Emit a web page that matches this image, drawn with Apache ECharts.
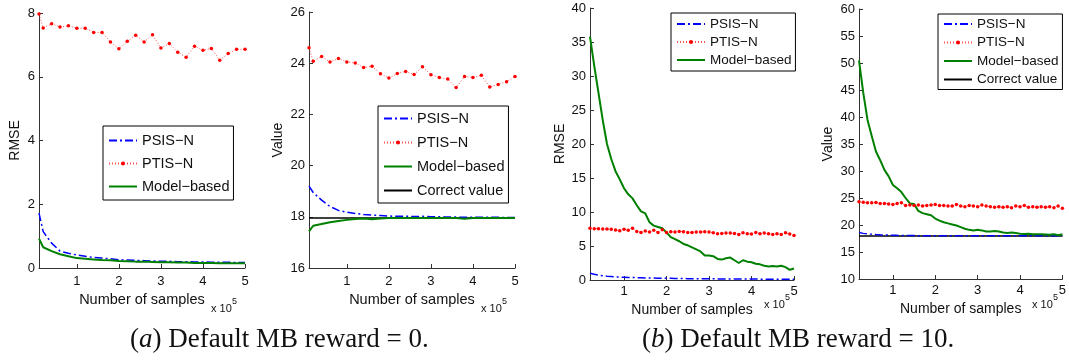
<!DOCTYPE html>
<html>
<head>
<meta charset="utf-8">
<title>RMSE / Value vs number of samples</title>
<script src="https://cdn.jsdelivr.net/npm/echarts@6/dist/echarts.min.js"></script>
<style>
  html, body { margin: 0; background: #fff; }
  #chart { width: 1069px; height: 362px; }
</style>
</head>
<body>
<div id="chart"></div>
<script>
// sample counts (x 10^5)
var xLeft = [0.1, 0.2, 0.4, 0.6, 0.8, 1.0, 1.2, 1.4, 1.6, 1.8, 2.0, 2.2, 2.4, 2.6, 2.8, 3.0, 3.2, 3.4, 3.6, 3.8, 4.0, 4.2, 4.4, 4.6, 4.8, 5.0];
var xRight = [0.2, 0.3, 0.4, 0.5, 0.6, 0.7, 0.8, 0.9, 1.0, 1.1, 1.2, 1.3, 1.4, 1.5, 1.6, 1.7, 1.8, 1.9, 2.0, 2.1, 2.2, 2.3, 2.4, 2.5, 2.6, 2.7, 2.8, 2.9, 3.0, 3.1, 3.2, 3.3, 3.4, 3.5, 3.6, 3.7, 3.8, 3.9, 4.0, 4.1, 4.2, 4.3, 4.4, 4.5, 4.6, 4.7, 4.8, 4.9, 5.0];
var xTicks = [1, 2, 3, 4, 5];

// (a) default MB reward = 0
var rmsePsisA = [1.72, 1.14, 0.78, 0.53, 0.46, 0.41, 0.37, 0.33, 0.31, 0.29, 0.26, 0.25, 0.24, 0.23, 0.22, 0.21, 0.21, 0.2, 0.2, 0.19, 0.19, 0.18, 0.18, 0.18, 0.17, 0.17];
var rmsePtisA = [7.97, 7.53, 7.66, 7.56, 7.6, 7.52, 7.52, 7.39, 7.39, 7.09, 6.88, 7.11, 7.3, 7.09, 7.32, 6.9, 7.04, 6.77, 6.61, 6.96, 6.83, 6.89, 6.52, 6.73, 6.86, 6.86];
var rmseModelA = [0.92, 0.65, 0.53, 0.43, 0.37, 0.31, 0.29, 0.27, 0.25, 0.24, 0.22, 0.21, 0.2, 0.2, 0.19, 0.18, 0.18, 0.17, 0.17, 0.16, 0.16, 0.16, 0.15, 0.15, 0.15, 0.15];
var valPsisA = [19.2, 18.95, 18.65, 18.4, 18.25, 18.18, 18.13, 18.09, 18.07, 18.05, 18.03, 18.02, 18.02, 18.01, 18.02, 18.0, 18.0, 17.99, 17.99, 17.98, 17.98, 17.98, 17.98, 17.98, 17.97, 17.97];
var valPtisA = [24.6, 24.08, 24.26, 24.05, 24.18, 24.05, 24.01, 23.83, 23.88, 23.59, 23.42, 23.6, 23.68, 23.56, 23.86, 23.55, 23.44, 23.38, 23.05, 23.48, 23.44, 23.53, 23.07, 23.17, 23.28, 23.48];
var valModelA = [17.43, 17.65, 17.72, 17.79, 17.84, 17.88, 17.91, 17.93, 17.9, 17.93, 17.95, 17.95, 17.95, 17.95, 17.95, 17.95, 17.95, 17.95, 17.95, 17.92, 17.95, 17.95, 17.95, 17.95, 17.95, 17.95];

// (b) default MB reward = 10
var rmsePsisB = [1.0, 0.85, 0.72, 0.62, 0.55, 0.5, 0.45, 0.42, 0.4, 0.38, 0.36, 0.34, 0.32, 0.3, 0.29, 0.28, 0.27, 0.26, 0.25, 0.24, 0.23, 0.22, 0.21, 0.2, 0.2, 0.19, 0.18, 0.18, 0.17, 0.17, 0.16, 0.16, 0.15, 0.15, 0.15, 0.14, 0.14, 0.14, 0.13, 0.13, 0.13, 0.12, 0.12, 0.12, 0.12, 0.11, 0.11, 0.11, 0.11];
var rmsePtisB = [7.6, 7.55, 7.55, 7.5, 7.5, 7.45, 7.35, 7.25, 7.45, 7.3, 7.6, 7.15, 7.0, 7.2, 7.05, 7.3, 7.0, 7.4, 7.0, 7.1, 7.05, 7.15, 7.1, 7.0, 7.0, 7.05, 7.05, 7.1, 7.05, 6.95, 6.8, 6.85, 6.9, 6.9, 6.85, 6.7, 6.95, 6.8, 6.75, 7.0, 6.8, 6.9, 6.8, 6.7, 6.8, 6.7, 6.95, 6.75, 6.55];
var rmseModelB = [35.8, 31.5, 27.5, 23.5, 20.0, 17.8, 16.0, 14.8, 13.5, 12.6, 12.0, 11.0, 10.1, 9.8, 8.5, 8.0, 7.8, 7.6, 7.0, 6.3, 6.0, 5.7, 5.3, 5.1, 4.8, 4.5, 4.2, 3.6, 3.6, 3.5, 3.1, 3.0, 3.2, 3.3, 2.9, 2.5, 2.9, 2.7, 2.6, 2.4, 2.3, 2.1, 2.0, 2.05, 2.0, 2.1, 1.9, 1.5, 1.7];
var valPsisB = [18.6, 18.45, 18.35, 18.28, 18.22, 18.18, 18.15, 18.12, 18.1, 18.08, 18.07, 18.06, 18.05, 18.04, 18.03, 18.03, 18.02, 18.02, 18.01, 18.01, 18.0, 18.0, 18.0, 18.0, 18.0, 18.0, 18.0, 18.0, 18.0, 18.0, 18.0, 18.0, 18.0, 18.0, 18.0, 18.0, 18.0, 18.0, 18.0, 18.0, 18.0, 18.0, 18.0, 18.0, 18.0, 18.0, 18.0, 18.0, 18.0];
var valPtisB = [24.3, 24.2, 24.1, 24.1, 24.15, 24.0, 24.0, 23.9, 23.8, 24.0, 24.1, 23.6, 23.7, 23.6, 23.7, 23.5, 23.6, 23.7, 23.8, 23.6, 23.6, 23.5, 23.5, 23.8, 23.5, 23.4, 23.6, 23.5, 23.4, 23.7, 23.5, 23.4, 23.3, 23.4, 23.3, 23.4, 23.2, 23.5, 23.4, 23.6, 23.3, 23.4, 23.3, 23.4, 23.3, 23.4, 23.2, 23.5, 23.1];
var valModelB = [50.5, 44.5, 39.5, 36.5, 33.6, 32.0, 30.2, 29.0, 27.4, 26.8, 26.1, 25.0, 24.0, 23.9, 22.6, 22.2, 22.0, 21.8, 21.2, 20.8, 20.5, 20.3, 20.1, 19.9, 19.6, 19.3, 19.1, 19.0, 19.1, 19.0, 18.8, 18.8, 18.9, 18.8, 18.6, 18.5, 18.6, 18.5, 18.4, 18.35, 18.4, 18.3, 18.3, 18.3, 18.25, 18.2, 18.3, 18.1, 18.3];

var correctValue = 17.95;

var FONT = '"Liberation Sans", Arial, sans-serif';
var SERIF = '"Liberation Serif", "DejaVu Serif", serif';
var N_PSIS = 'PSIS\u2212N', N_PTIS = 'PTIS\u2212N', N_MODEL = 'Model\u2212based', N_CORRECT = 'Correct value';

function pairs(xs, ys) {
  return xs.map(function (x, i) { return [x, ys[i]]; });
}

function psis(gi, xs, ys) {
  return { name: N_PSIS, type: 'line', xAxisIndex: gi, yAxisIndex: gi, data: pairs(xs, ys),
    symbol: 'none', lineStyle: { color: '#0000ff', width: 1.5, type: [8, 3, 2, 3] }, itemStyle: { color: '#0000ff' } };
}
function ptis(gi, xs, ys) {
  return { name: N_PTIS, type: 'line', xAxisIndex: gi, yAxisIndex: gi, data: pairs(xs, ys),
    symbol: 'circle', symbolSize: 3.5, showSymbol: true,
    lineStyle: { color: '#ff5050', width: 1, type: [1, 2] }, itemStyle: { color: '#ff0000' } };
}
function model(gi, xs, ys) {
  return { name: N_MODEL, type: 'line', xAxisIndex: gi, yAxisIndex: gi, data: pairs(xs, ys),
    symbol: 'none', lineStyle: { color: '#008000', width: 2 }, itemStyle: { color: '#008000' } };
}
function correct(gi, xs) {
  return { name: N_CORRECT, type: 'line', xAxisIndex: gi, yAxisIndex: gi,
    data: [[xs[0], correctValue], [xs[xs.length - 1], correctValue]],
    symbol: 'none', lineStyle: { color: '#000', width: 1.5 }, itemStyle: { color: '#000' }, z: 1 };
}

var grids = [
  { left: 39, top: 13, width: 206, height: 255 },
  { left: 309, top: 12, width: 206, height: 256 },
  { left: 590, top: 8, width: 204, height: 272 },
  { left: 859, top: 9, width: 204, height: 270 }
];

function xAxis(gi, min, nameGap, labelMargin, fs) {
  return {
    type: 'value', gridIndex: gi, min: min, max: 5,
    name: 'Number of samples', nameLocation: 'middle', nameGap: nameGap,
    nameTextStyle: { fontFamily: FONT, fontSize: fs, color: '#111' },
    axisLine: { onZero: false, lineStyle: { color: '#333', width: 1 } },
    axisTick: { inside: true, length: 4, customValues: xTicks, lineStyle: { color: '#333' } },
    axisLabel: { customValues: xTicks, margin: labelMargin, fontFamily: FONT, fontSize: 13, color: '#111' },
    splitLine: { show: false }
  };
}
function yAxis(gi, name, min, max, interval, nameGap) {
  return {
    type: 'value', gridIndex: gi, min: min, max: max, interval: interval,
    name: name, nameLocation: 'middle', nameGap: nameGap,
    nameTextStyle: { fontFamily: FONT, fontSize: 14, color: '#111' },
    axisLine: { show: true, lineStyle: { color: '#333', width: 1 } },
    axisTick: { show: true, inside: true, length: 4, lineStyle: { color: '#333' } },
    axisLabel: { margin: 4, fontFamily: FONT, fontSize: 13, color: '#111' },
    splitLine: { show: false }
  };
}

// legend entries: only PTIS keeps its marker in the key
var hideMark = { color: 'rgba(0,0,0,0)', borderColor: 'rgba(0,0,0,0)', borderWidth: 0 };
function legendItems(withCorrect) {
  var items = [
    { name: N_PSIS, itemStyle: hideMark },
    { name: N_PTIS },
    { name: N_MODEL, itemStyle: hideMark }
  ];
  if (withCorrect) items.push({ name: N_CORRECT, itemStyle: hideMark });
  return items;
}

function legend(left, top, items, gap, fs, lh, pad) {
  return {
    orient: 'vertical', left: left, top: top, data: items,
    itemWidth: 28, itemHeight: 5, itemGap: gap, padding: pad,
    borderColor: '#000', borderWidth: 1, backgroundColor: '#fff', borderRadius: 0,
    textStyle: { fontFamily: FONT, fontSize: fs, lineHeight: lh, color: '#111' },
    selectedMode: false, z: 10
  };
}

function expo(x, y) {
  return [
    { type: 'text', left: x, top: y, style: { text: 'x 10', font: '11px ' + FONT, fill: '#111' } },
    { type: 'text', left: x + 21, top: y - 6, style: { text: '5', font: '9px ' + FONT, fill: '#111' } }
  ];
}

var captionRich = {
  i: { fontFamily: SERIF, fontStyle: 'italic', fontSize: 27, fill: '#111' },
  n: { fontFamily: SERIF, fontSize: 27, fill: '#111' }
};

var option = {
  animation: false,
  backgroundColor: '#fff',
  grid: grids,
  xAxis: [xAxis(0, 0.1, 21, 7, 14.5), xAxis(1, 0.1, 21, 7, 14.5), xAxis(2, 0.2, 16, 5, 14), xAxis(3, 0.2, 16, 5, 14)],
  yAxis: [yAxis(0, 'RMSE', 0, 8, 2, 17), yAxis(1, 'Value', 16, 26, 2, 24), yAxis(2, 'RMSE', 0, 40, 5, 23), yAxis(3, 'Value', 10, 60, 5, 24)],
  legend: [
    legend(103, 126, legendItems(false), 8, 14.5, 14, [7, 4, 6, 5]),
    legend(378, 106, legendItems(true), 9, 14.5, 14, [5, 4, 5, 5]),
    legend(671, 13, legendItems(false), 4, 13.5, 13, [4, 4, 4, 5]),
    legend(938, 14, legendItems(true), 4.5, 13.5, 13, [3, 4, 3, 5])
  ],
  series: [
    correct(1, xLeft), correct(3, xRight),
    psis(0, xLeft, rmsePsisA), ptis(0, xLeft, rmsePtisA), model(0, xLeft, rmseModelA),
    psis(1, xLeft, valPsisA), ptis(1, xLeft, valPtisA), model(1, xLeft, valModelA),
    psis(2, xRight, rmsePsisB), ptis(2, xRight, rmsePtisB), model(2, xRight, rmseModelB),
    psis(3, xRight, valPsisB), ptis(3, xRight, valPtisB), model(3, xRight, valModelB)
  ],
  graphic: [].concat(
    expo(211, 303), expo(481, 303), expo(764, 299), expo(1032, 299),
    [
      { type: 'text', left: 130, top: 326, style: { text: '(' + '{i|a}' + '{n|) Default MB reward = 0.}', rich: captionRich, font: '27px ' + SERIF, fill: '#111' } },
      { type: 'text', left: 642, top: 326, style: { text: '(' + '{i|b}' + '{n|) Default MB reward = 10.}', rich: captionRich, font: '27px ' + SERIF, fill: '#111' } }
    ]
  )
};

var chart = echarts.init(document.getElementById('chart'), null, { renderer: 'canvas' });
chart.setOption(option);
</script>
</body>
</html>
